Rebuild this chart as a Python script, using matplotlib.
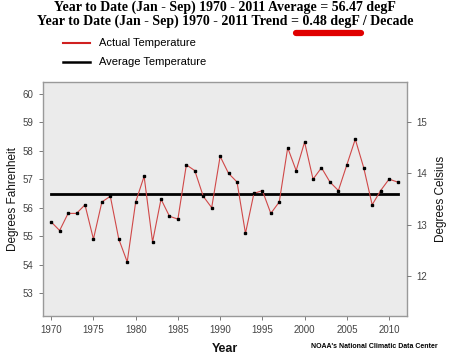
import numpy as np
import matplotlib.pyplot as plt

# Year-to-date (Jan - Sep) temperatures, degF
years = list(range(1970, 2012))
temps = [55.5, 55.2, 55.8, 55.8, 56.1, 54.9, 56.2, 56.4, 54.9, 54.1,
         56.2, 57.1, 54.8, 56.3, 55.7, 55.6, 57.5, 57.3, 56.4, 56.0,
         57.8, 57.2, 56.9, 55.1, 56.5, 56.6, 55.8, 56.2, 58.1, 57.3,
         58.3, 57.0, 57.4, 56.9, 56.6, 57.5, 58.4, 57.4, 56.1, 56.6,
         57.0, 56.9]
average = 56.47
f_ticks = [53, 54, 55, 56, 57, 58, 59, 60]
c_ticks = [12, 13, 14, 15]
x_ticks = [1970, 1975, 1980, 1985, 1990, 1995, 2000, 2005, 2010]

plt.rcParams['font.family'] = ['Liberation Sans', 'DejaVu Sans']

fig = plt.figure(figsize=(4.5, 3.54), dpi=100)
ax = fig.add_axes([0.095, 0.107, 0.809, 0.661])
ax.set_facecolor('#ebebeb')

ax.plot(years, temps, color='#d04848', lw=0.8, marker='s', ms=1.6,
        mfc='black', mec='black', zorder=3)
ax.plot([years[0], years[-1]], [average, average], color='black', lw=2, zorder=2)

ax.set_xlim(1969.0, 2012.1)
ax.set_ylim(52.2, 60.4)
ax.set_xticks(x_ticks)
ax.set_yticks(f_ticks)
ax.tick_params(labelsize=7, colors='#666666', length=3, width=0.6)
ax.tick_params(labelcolor='#444444')
for s in ax.spines.values():
    s.set_color('#999999')
    s.set_linewidth(1)
ax.set_ylabel('Degrees Fahrenheit', fontsize=8.5, color='#111111', labelpad=3)
ax.set_xlabel('Year', fontsize=9, fontweight='bold', color='#111111', labelpad=6)

# Celsius axis
ax2 = ax.twinx()
lo, hi = ax.get_ylim()
ax2.set_ylim((lo - 32) * 5 / 9, (hi - 32) * 5 / 9)
ax2.set_yticks(c_ticks)
ax2.tick_params(labelsize=7, colors='#666666', length=3, width=0.6)
ax2.tick_params(labelcolor='#444444')
for s in ax2.spines.values():
    s.set_visible(False)
ax2.set_ylabel('Degrees Celsius', fontsize=8.5, color='#111111', labelpad=6)

# titles
fig.text(0.5, 1 - 7.5 / 354, 'Year to Date (Jan - Sep) 1970 - 2011 Average = 56.47 degF',
         ha='center', va='center', family='Liberation Serif', fontweight='bold', fontsize=10)
fig.text(0.5, 1 - 21 / 354, 'Year to Date (Jan - Sep) 1970 - 2011 Trend = 0.48 degF / Decade',
         ha='center', va='center', family='Liberation Serif', fontweight='bold', fontsize=10)
# red highlight under the trend value
fig.add_artist(plt.Line2D([296 / 450, 361 / 450], [1 - 33 / 354, 1 - 33 / 354],
                          color='#e00000', lw=4.5, solid_capstyle='round'))

# legend
fig.add_artist(plt.Line2D([63 / 450, 90 / 450], [1 - 43 / 354] * 2, color='#d02020', lw=1.5))
fig.add_artist(plt.Line2D([63 / 450, 90 / 450], [1 - 62 / 354] * 2, color='black', lw=1.8))
fig.text(99 / 450, 1 - 43 / 354, 'Actual Temperature', fontsize=8, va='center')
fig.text(99 / 450, 1 - 62 / 354, 'Average Temperature', fontsize=8, va='center')

fig.text(311 / 450, 1 - 346 / 354, "NOAA's National Climatic Data Center",
         fontsize=5, fontweight='bold', va='center')

fig.savefig('out.png', dpi=100)
